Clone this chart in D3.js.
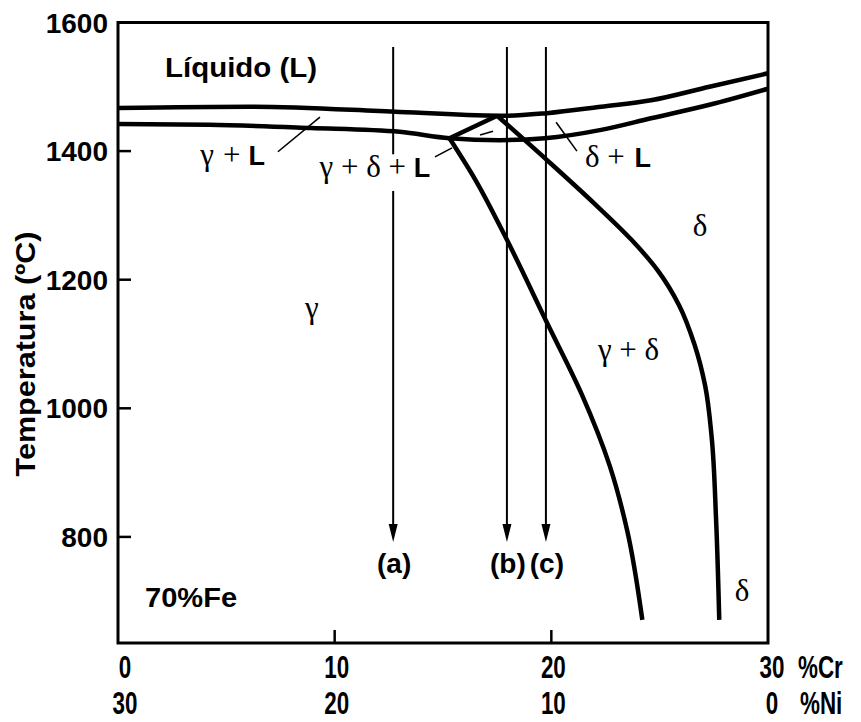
<!DOCTYPE html>
<html><head><meta charset="utf-8">
<script src="https://cdn.jsdelivr.net/npm/d3@7"></script>
<style>body{margin:0;background:#fff}svg{display:block}</style>
</head><body>
<svg id="c" width="861" height="722"></svg>
<script>
// ---- data (Cr wt%, Temperature °C) ----
const crTicks = [0, 10, 20, 30];
const niTicks = [30, 20, 10, 0];
const tempTicks = [800, 1000, 1200, 1400, 1600];
const liquidus = [[0,1467],[6.1,1469],[13.0,1461],[17.9,1455],[19.8,1459],[22.3,1469],[24.6,1479],[27.3,1500],[30,1521]];
const solidus = [[0,1442],[4.2,1441],[8.9,1436],[13.0,1430],[15.3,1420],[17.6,1417],[19.7,1420],[22.3,1433],[24.6,1451],[27.3,1472],[30,1497]];
const triangleTop = [[15.3,1420],[17.5,1455]];
const deltaSolvus = [[17.5,1455],[19.8,1386],[22.0,1318],[23.7,1262],[24.9,1215],[25.9,1160],[26.6,1100],[27.1,1035],[27.4,955],[27.6,830],[27.75,671]];
const gammaSolvus = [[15.3,1420],[16.5,1355],[17.95,1262],[19.8,1133],[21.4,1022],[22.7,910],[23.5,810],[24.2,671]];
const arrowCr = [12.7, 17.95, 19.75];
const arrowLabels = ["(a)", "(b)", "(c)"];
const arrowTop = 1562, arrowTip = 792;
const leaders = [
  [[7.38,1399],[9.32,1453]],
  [[14.63,1391],[15.42,1405]],
  [[16.71,1425],[17.31,1431]],
  [[20.22,1445],[21.18,1400]]
];

const svg = d3.select("#c");
const x = d3.scaleLinear().domain([0, 30]).range([118, 768]);
const y = d3.scaleLinear().domain([635, 1600]).range([643, 22.5]);

const SANS = "'Liberation Sans', Arial, sans-serif";
const SERIF = "'Liberation Serif', 'Times New Roman', serif";

// frame
svg.append("rect").attr("x", x(0)).attr("y", y(1600))
  .attr("width", x(30) - x(0)).attr("height", y(635) - y(1600))
  .attr("fill", "none").attr("stroke", "#000").attr("stroke-width", 3);

// y ticks (inward)
svg.selectAll(".yt").data(tempTicks.filter(t => t < 1600)).enter().append("line")
  .attr("x1", x(0)).attr("x2", x(0) + 13).attr("y1", d => y(d)).attr("y2", d => y(d))
  .attr("stroke", "#000").attr("stroke-width", 2.5);
svg.selectAll(".ytl").data(tempTicks).enter().append("text")
  .attr("x", x(0) - 10).attr("y", d => y(d)).attr("dy", "0.36em")
  .attr("text-anchor", "end").attr("font-family", SANS).attr("font-weight", "bold")
  .attr("font-size", 28).text(d => d);

// x ticks (inward)
svg.selectAll(".xt").data(crTicks.filter(t => t > 0 && t < 30)).enter().append("line")
  .attr("x1", d => x(d)).attr("x2", d => x(d)).attr("y1", y(635)).attr("y2", y(635) - 13)
  .attr("stroke", "#000").attr("stroke-width", 2.5);

function condensedLabel(px, py, txt, anchor) {
  svg.append("text").attr("transform", `translate(${px},${py}) scale(0.8,1.1)`)
    .attr("text-anchor", anchor || "middle").attr("font-family", SANS).attr("font-weight", "bold")
    .attr("font-size", 28).text(txt);
}
const nudge = v => v === 0 ? 7 : (v === 30 ? 4 : 2);
crTicks.forEach(v => condensedLabel(x(v) + nudge(v), 678, v));
niTicks.forEach((v, i) => condensedLabel(x(crTicks[i]) + nudge(crTicks[i]), 714, v));
condensedLabel(798, 678, "%Cr", "start");
condensedLabel(800, 714, "%Ni", "start");

// y title
svg.append("text").attr("transform", `translate(35,${354}) rotate(-90)`)
  .attr("text-anchor", "middle").attr("font-family", SANS).attr("font-weight", "bold")
  .attr("font-size", 28).attr("textLength", 245).attr("lengthAdjust", "spacingAndGlyphs")
  .text("Temperatura (ºC)");

// phase lines
const lineX = d3.line().x(d => x(d[0])).y(d => y(d[1])).curve(d3.curveMonotoneX);
const lineY = d3.line().x(d => x(d[0])).y(d => y(d[1])).curve(d3.curveMonotoneY);
const lineStraight = d3.line().x(d => x(d[0])).y(d => y(d[1]));
function thick(d) {
  svg.append("path").attr("d", d).attr("fill", "none").attr("stroke", "#000")
    .attr("stroke-width", 4.5).attr("stroke-linejoin", "round").attr("stroke-linecap", "butt");
}
thick(lineX(liquidus));
thick(lineX(solidus));
thick(lineY(deltaSolvus));
thick(lineY(gammaSolvus));
thick(lineStraight(triangleTop));

// leaders
leaders.forEach(s => svg.append("path").attr("d", lineStraight(s))
  .attr("stroke", "#000").attr("stroke-width", 1.6).attr("fill", "none"));

// arrows
arrowCr.forEach((c, i) => {
  const ax = x(c);
  svg.append("line").attr("x1", ax).attr("x2", ax).attr("y1", y(arrowTop)).attr("y2", y(arrowTip) - 10)
    .attr("stroke", "#000").attr("stroke-width", 2);
  const ty = y(arrowTip);
  svg.append("path").attr("d", `M${ax - 4.5},${ty - 18}L${ax + 4.5},${ty - 18}L${ax},${ty}Z`).attr("fill", "#000");
  svg.append("text").attr("x", ax + 1).attr("y", y(arrowTip) + 31).attr("text-anchor", "middle")
    .attr("font-family", SANS).attr("font-weight", "bold").attr("font-size", 28).text(arrowLabels[i]);
});

// region labels
function mixLabel(cr, t, parts, anchor) {
  const tx = svg.append("text").attr("x", x(cr)).attr("y", y(t)).attr("text-anchor", anchor || "start");
  parts.forEach(p => {
    const ts = tx.append("tspan").text(p[0]);
    if (p[2]) ts.attr("dx", p[2]);
    if (p[1] === "L") ts.attr("font-family", SANS).attr("font-weight", "bold").attr("font-size", 27);
    else ts.attr("font-family", SERIF).attr("font-size", 31);
  });
  return tx;
}
svg.append("text").attr("x", x(2.17)).attr("y", y(1515)).attr("font-family", SANS)
  .attr("font-weight", "bold").attr("font-size", 28).attr("textLength", 152)
  .attr("lengthAdjust", "spacingAndGlyphs").text("Líquido (L)");
svg.append("text").attr("x", x(1.25)).attr("y", y(691)).attr("font-family", SANS)
  .attr("font-weight", "bold").attr("font-size", 28).attr("textLength", 92)
  .attr("lengthAdjust", "spacingAndGlyphs").text("70%Fe");

mixLabel(3.8, 1378, [["γ", "s"], ["+", "s", 9], ["L", "L", 8]]);
// white knock-out behind gamma+delta+L (breaks arrow a)
svg.append("rect").attr("x", x(12.7) - 6).attr("y", y(1395)).attr("width", 12).attr("height", y(1338) - y(1395)).attr("fill", "#fff");
mixLabel(9.3, 1360, [["γ + δ + ", "s"], ["L", "L"]]);
mixLabel(21.55, 1375, [["δ + ", "s"], ["L", "L", 2]]);
mixLabel(22.15, 1075, [["γ + δ", "s"]]);
mixLabel(26.86, 1268, [["δ", "s"]], "middle");
mixLabel(8.95, 1140, [["γ", "s"]], "middle");
mixLabel(28.8, 700, [["δ", "s"]], "middle");
</script>
</body></html>
